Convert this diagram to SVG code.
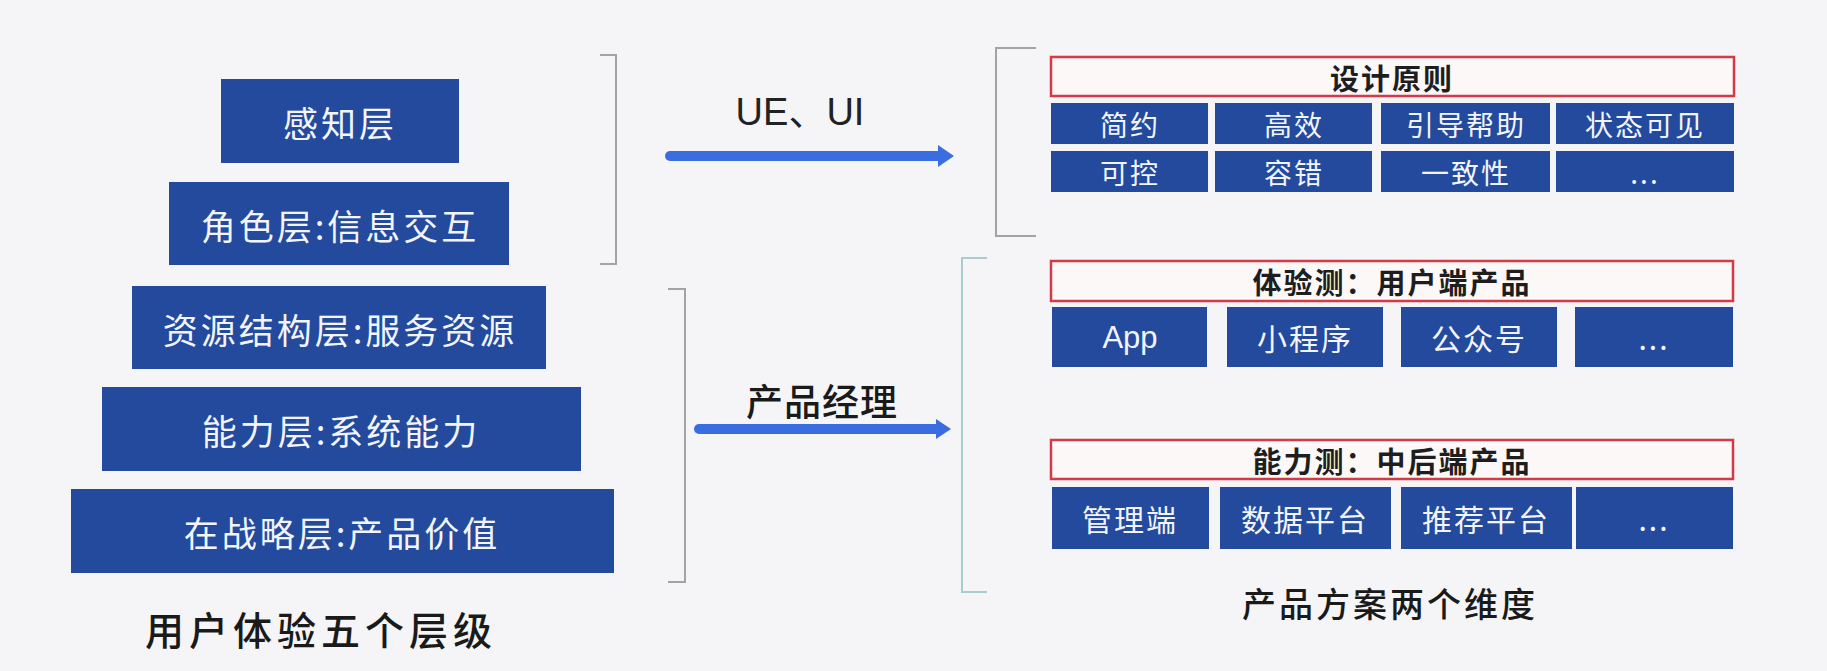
<svg xmlns="http://www.w3.org/2000/svg" width="1827" height="671" viewBox="0 0 1827 671">
<defs>
<style>
.bg{fill:#f5f5f7}
.box{fill:#234a9c}
.cell{fill:#234a9c}
.hdr{fill:#fcf8f8;stroke:#d33a46;stroke-width:2.5}
.bt{font-family:"Noto Sans CJK SC","Noto Sans",sans-serif;fill:#f2f5ff;text-anchor:middle;dominant-baseline:central}
.lt{font-size:35px;letter-spacing:3px}
.ct{font-size:28px;letter-spacing:2px}
.ct2{font-size:30px;letter-spacing:2px}
.ht{font-family:"Noto Sans CJK SC","Noto Sans",sans-serif;font-size:29px;font-weight:bold;fill:#1e1e1e;text-anchor:middle;dominant-baseline:central;letter-spacing:2px}
.cap{font-family:"Noto Sans CJK SC","Noto Sans",sans-serif;font-weight:500;fill:#1a1a1a;text-anchor:middle;dominant-baseline:central}
.lbl{font-family:"Liberation Sans","Noto Sans CJK SC",sans-serif;fill:#222;text-anchor:middle}
.brg{fill:none;stroke:#a3a3a3;stroke-width:2}
.brt{fill:none;stroke:#a9cbd3;stroke-width:2}
.arr{stroke:#3a6ee0;stroke-width:10;stroke-linecap:round;fill:none}
.ah{fill:#3a6ee0}
</style>
</defs>
<rect class="bg" x="0" y="0" width="1827" height="671"/>

<g id="layer-perception"><rect class="box" x="221" y="79" width="238" height="84"/><text class="bt lt" x="340" y="121">感知层</text></g>
<g id="layer-role"><rect class="box" x="169" y="182" width="340" height="83"/><text class="bt lt" x="340" y="224">角色层:信息交互</text></g>
<g id="layer-resource"><rect class="box" x="132" y="286" width="414" height="83"/><text class="bt lt" x="340" y="328">资源结构层:服务资源</text></g>
<g id="layer-capability"><rect class="box" x="102" y="387" width="479" height="84"/><text class="bt lt" x="341" y="429">能力层:系统能力</text></g>
<g id="layer-strategy"><rect class="box" x="71" y="489" width="543" height="84"/><text class="bt lt" x="342" y="531">在战略层:产品价值</text></g>
<g id="caption-left"><text class="cap" x="321" y="628" font-size="39" letter-spacing="5">用户体验五个层级</text></g>

<g id="brackets">
<path class="brg" d="M600 55 H616 V264 H600"/>
<path class="brg" d="M668 289 H685 V582 H668"/>
<path class="brg" d="M1036 48 H996 V236 H1036"/>
<path class="brt" d="M987 258 H962 V592 H987"/>
</g>

<g id="connectors">
<line class="arr" x1="670" y1="156" x2="940" y2="156"/>
<polygon class="ah" points="938,145 954,156 938,167"/>
<line class="arr" x1="699" y1="429" x2="938" y2="429"/>
<polygon class="ah" points="936,419 951,429 936,439"/>
</g>
<g id="label-ue"><text class="lbl" x="800" y="125" font-size="38">UE、UI</text></g>
<g id="label-pm"><text class="cap" x="822" y="400" font-size="37" letter-spacing="1">产品经理</text></g>

<g id="design-principles">
<rect class="hdr" x="1051" y="57" width="683" height="39"/>
<text class="ht" x="1392" y="77">设计原则</text>
</g>
<g id="dp-row1">
<rect class="cell" x="1051" y="103" width="157" height="41"/><text class="bt ct" x="1130" y="124">简约</text>
<rect class="cell" x="1215" y="103" width="157" height="41"/><text class="bt ct" x="1294" y="124">高效</text>
<rect class="cell" x="1381" y="103" width="169" height="41"/><text class="bt ct" x="1466" y="124">引导帮助</text>
<rect class="cell" x="1556" y="103" width="178" height="41"/><text class="bt ct" x="1645" y="124">状态可见</text>
</g>
<g id="dp-row2">
<rect class="cell" x="1051" y="151" width="157" height="41"/><text class="bt ct" x="1130" y="172">可控</text>
<rect class="cell" x="1215" y="151" width="157" height="41"/><text class="bt ct" x="1294" y="172">容错</text>
<rect class="cell" x="1381" y="151" width="169" height="41"/><text class="bt ct" x="1466" y="172">一致性</text>
<rect class="cell" x="1556" y="151" width="178" height="41"/><text class="bt ct" x="1645" y="172">...</text>
</g>

<g id="experience-side">
<rect class="hdr" x="1051" y="261" width="682" height="40"/>
<text class="ht" x="1392" y="281">体验测：用户端产品</text>
</g>
<g id="exp-row">
<rect class="cell" x="1052" y="307" width="155" height="60"/><text class="lbl" x="1130" y="348" font-size="31" style="fill:#f2f5ff">App</text>
<rect class="cell" x="1227" y="307" width="156" height="60"/><text class="bt ct2" x="1305" y="337">小程序</text>
<rect class="cell" x="1401" y="307" width="156" height="60"/><text class="bt ct2" x="1479" y="337">公众号</text>
<rect class="cell" x="1575" y="307" width="158" height="60"/><text class="bt ct2" x="1654" y="337">...</text>
</g>

<g id="capability-side">
<rect class="hdr" x="1051" y="440" width="682" height="39"/>
<text class="ht" x="1392" y="460">能力测：中后端产品</text>
</g>
<g id="cap-row">
<rect class="cell" x="1052" y="487" width="157" height="62"/><text class="bt ct2" x="1130" y="518">管理端</text>
<rect class="cell" x="1220" y="487" width="171" height="62"/><text class="bt ct2" x="1305" y="518">数据平台</text>
<rect class="cell" x="1401" y="487" width="171" height="62"/><text class="bt ct2" x="1486" y="518">推荐平台</text>
<rect class="cell" x="1576" y="487" width="157" height="62"/><text class="bt ct2" x="1654" y="518">...</text>
</g>
<g id="caption-right"><text class="cap" x="1390" y="602" font-size="34" letter-spacing="3">产品方案两个维度</text></g>
</svg>
